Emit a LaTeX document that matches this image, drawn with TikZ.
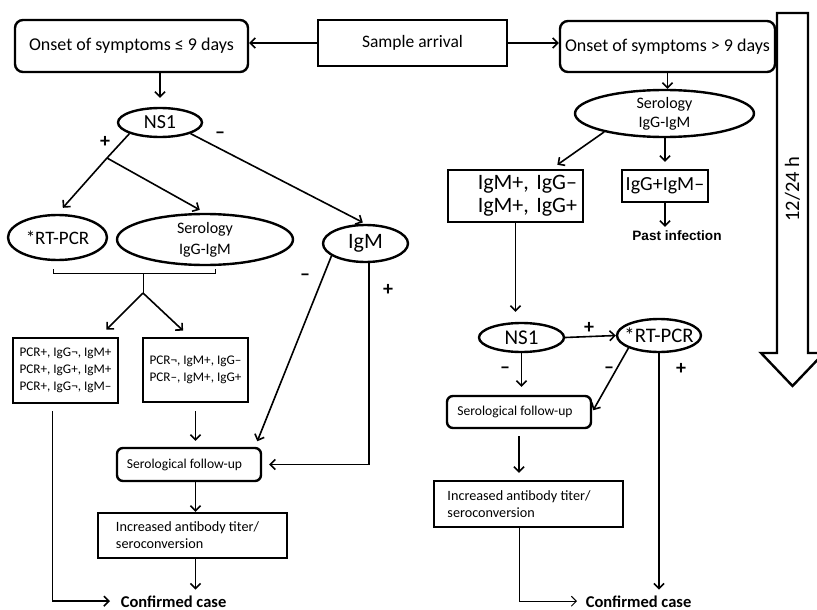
\documentclass[tikz,border=0pt]{standalone}
\usepackage{fontspec}
\setmainfont{Carlito}
\newfontfamily\arialfont{Liberation Sans}
\usetikzlibrary{shapes.geometric,arrows.meta}
\newcommand{\fsz}[2]{\fontsize{#1}{#2}\selectfont}

\begin{document}
\begin{tikzpicture}[x=1pt,y=-1pt,line width=1.6pt,
  arr/.style={-{Straight Barb[length=5pt,width=10pt]}},
  box/.style={draw,line width=2.4pt,inner sep=0pt},
  rbox/.style={box,rounded corners=8pt},
  oval/.style={draw,ellipse,line width=2.4pt,inner sep=-8pt},
  sign/.style={font=\bfseries\fsz{20}{20}},
  result/.style={font=\bfseries\fsz{16.5}{20},anchor=base west,inner sep=3pt,text depth=0pt}]
\fill[white] (0,0) rectangle (817,610);
\clip (0,0) rectangle (817,610);
% top row
\node[rbox,minimum width=233pt,minimum height=52pt,font=\fsz{18}{22}] (onsetA) at (131.5,46) {Onset of symptoms ≤ 9 days};
\node[box,minimum width=189pt,minimum height=46pt,font=\fsz{17.5}{21}] (arrival) at (412.5,43) {Sample arrival};
\node[rbox,minimum width=215pt,minimum height=51pt,font=\fsz{18}{22}] (onsetB) at (667.5,46.5) {Onset of symptoms > 9 days};
% left branch
\node[oval,minimum width=84pt,minimum height=29pt,font=\fsz{20}{24}] (ns1A) at (160,122.5) {NS1};
\node[oval,minimum width=99pt,minimum height=45pt,font=\fsz{19}{23}] (pcrA) at (57.5,237.5) {*RT-PCR};
\node[oval,minimum width=176pt,minimum height=51pt,font=\fsz{16}{21},align=center] (seroA) at (205,239.5) {Serology\\IgG-IgM};
\node[oval,minimum width=85pt,minimum height=37pt,font=\fsz{22}{26}] (igmA) at (365.5,243.5) {IgM};
\node[box,minimum width=105pt,minimum height=65pt,font=\fsz{13.2}{16.7},align=left] (boxPos) at (65.5,370.5) {PCR+, IgG¬, IgM+\\PCR+, IgG+, IgM+\\PCR+, IgG¬, IgM–};
\node[box,minimum width=105pt,minimum height=64pt,font=\fsz{13.2}{16.7},align=center] (boxNeg) at (195.5,370) {PCR¬, IgM+, IgG–\\PCR–, IgM+, IgG+};
\node[rbox,rounded corners=6pt,minimum width=144pt,minimum height=33pt,font=\fsz{13.6}{16}] (followA) at (189,464.5) {Serological follow-up\kern9pt};
\node[box,minimum width=189pt,minimum height=45pt,font=\fsz{14.2}{17},align=left] (titerA) at (192.5,535.5) {Increased antibody titer/\kern10pt\\seroconversion};
\node[result] (confA) at (117,607) {Confirmed case};
% right branch
\node[oval,minimum width=179pt,minimum height=47pt,font=\fsz{16}{19},align=center] (seroB) at (664.5,113.5) {Serology\\IgG-IgM};
\node[box,minimum width=135pt,minimum height=52pt,font=\fsz{22}{23},align=right,text width=123pt,inner xsep=6pt] (boxIgm) at (515.5,196) {IgM+, IgG–\\IgM+, IgG+};
\node[box,minimum width=86pt,minimum height=32pt,font=\fsz{20}{24}] (boxPast) at (665,186) {IgG+IgM–};
\node[font=\arialfont\bfseries\fsz{13.6}{16}] (pastB) at (677,236) {Past infection};
\node[oval,minimum width=85pt,minimum height=29pt,font=\fsz{21}{25}] (ns1B) at (521.5,337.5) {NS1};
\node[oval,minimum width=84pt,minimum height=33pt,font=\fsz{20.7}{25}] (pcrB) at (659,335.5) {*RT-PCR};
\node[rbox,rounded corners=6pt,minimum width=144pt,minimum height=32pt,font=\fsz{13.6}{16}] (followB) at (519,412) {Serological follow-up\kern8pt};
\node[box,minimum width=189pt,minimum height=46pt,font=\fsz{14.2}{17},align=left] (titerB) at (528.5,504) {Increased antibody titer/\kern19pt\\seroconversion};
\node[result] (confB) at (582,607) {Confirmed case};
% time arrow
\draw[line width=2.4pt] (777,13) -- (808,13) -- (808,353) -- (824,353) -- (792.5,386) -- (761,353) -- (777,353) -- cycle;
\node[rotate=90,font=\fsz{20.5}{24}] (hours) at (792.5,189) {12/24 h};
% connectors left
\draw[arr] (arrival.west) -- (arrival.west -| onsetA.east);
\draw[arr] (arrival.east) -- (arrival.east -| onsetB.west);
\draw[arr,shorten >=9pt] (ns1A.north |- onsetA.south) -- (ns1A.north);
\coordinate (jA) at (107,158);
\draw (ns1A.south west) -- (jA);
\draw[arr,shorten >=8pt] (jA) -- (pcrA.north);
\draw[arr,shorten >=6pt] (jA) -- (seroA.north);
\draw[arr,shorten >=3pt] (ns1A.south east) -- (igmA.north);
\draw[line width=0.8pt] (53,269) -- (53,273) -- (215,273) -- (215,269) (143,273) -- (143,293);
\coordinate (jB) at (143,293);
\draw[arr,shorten >=10pt] (jB) -- (boxPos.45);
\draw[arr,shorten >=9pt] (jB) -- (boxNeg.100);
\draw[arr,shorten <=8pt,shorten >=6pt] (boxNeg.south) -- (boxNeg.south |- followA.north);
\draw[arr,shorten >=6pt] (igmA.200) -- (followA.15);
\draw[arr,shorten >=7pt] (igmA.-80) |- (followA.east);
\draw[arr] (boxNeg.south |- followA.south) -- (boxNeg.south |- titerA.north);
\draw[arr,shorten >=2pt] (boxNeg.south |- titerA.south) -- (boxNeg.south |- confA.north);
\draw[arr,shorten <=7pt,shorten >=7pt] (boxPos.-111) |- (confA.west);
% connectors right
\draw[arr] (onsetB.south) -- (onsetB.south |- seroB.north);
\draw[arr,shorten >=7pt] (seroB.197) -- (boxIgm.37);
\draw[arr,shorten >=7pt] (boxPast.north |- seroB.south) -- (boxPast.north);
\draw[arr] (boxPast.south) -- (boxPast.south |- pastB.north);
\draw[arr,shorten >=10pt] (boxIgm.south) -- (boxIgm.south |- ns1B.north);
\draw[arr] (ns1B.east) -- (pcrB.west);
\draw[arr,shorten >=8pt] (ns1B.south) -- (ns1B.south |- followB.north);
\draw[arr,shorten >=2pt] (pcrB.south west) -- (followB.east);
\draw[arr,shorten >=2pt] (pcrB.south) -- (pcrB.south |- confB.north);
\draw[arr,shorten <=7pt,shorten >=7pt] (followB.south) -- (followB.south |- titerB.north);
\draw[arr,line width=1pt,shorten >=5pt] (followB.south |- titerB.south) |- (confB.west);
% signs
\foreach \n/\x/\y/\s in {a/105/142/+,b/220/135/–,c/305/277/–,d/388/290/+,e/589/328/+,f/505/370/–,g/609/370/–,h/681/369/+}
  \node[sign] (sign\n) at (\x,\y) {\s};
\end{tikzpicture}
\end{document}
